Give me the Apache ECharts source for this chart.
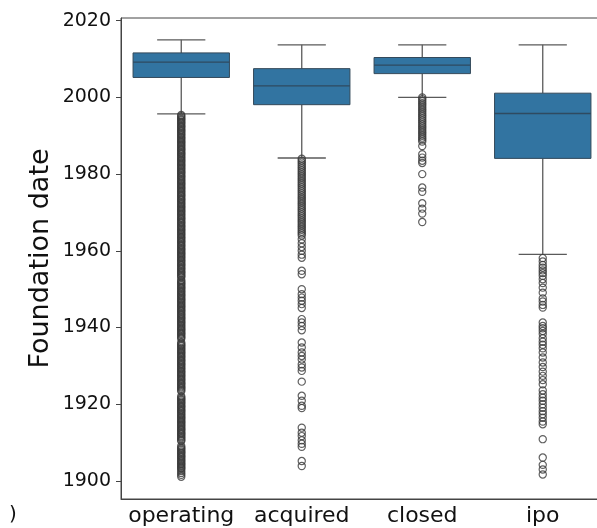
<!DOCTYPE html>
<html>
<head>
<meta charset="utf-8">
<script src="https://cdn.jsdelivr.net/npm/echarts@6/dist/echarts.min.js"></script>
<style>
  html, body { margin: 0; padding: 0; background: #fff; }
  #chart { width: 597px; height: 528px; }
</style>
</head>
<body>
<div id="chart"></div>
<script>
// Company status categories
const categories = ['operating', 'acquired', 'closed', 'ipo'];

// Box statistics per status (foundation year)
const lowerWhisker = [1995.7, 1984.2, 2000.0, 1959.1];
const q1Values     = [2005.2, 1998.1, 2006.2, 1984.1];
const medianValues = [2009.2, 2003.0, 2008.4, 1995.8];
const q3Values     = [2011.6, 2007.5, 2010.4, 2001.1];
const upperWhisker = [2015.0, 2013.7, 2013.7, 2013.7];

// Outlying foundation years per status
const operatingOutliers = [
  1995.4, 1995.1, 1994.7, 1994.4, 1994.1, 1993.7, 1993.4, 1993.1, 1992.7, 1992.4, 1992.1,
  1991.7, 1991.4, 1991.1, 1990.7, 1990.4, 1990.1, 1989.7, 1989.4, 1989.1, 1988.7, 1988.4, 1988.1,
  1987.7, 1987.4, 1987.1, 1986.7, 1986.4, 1986.1, 1985.7, 1985.4, 1985.1, 1984.7, 1984.4, 1984.1,
  1983.7, 1983.4, 1983.1, 1982.7, 1982.4, 1982.1, 1981.7, 1981.4, 1981.1, 1980.7, 1980.4, 1980.1,
  1979.7, 1979.4, 1979.1, 1978.7, 1978.4, 1978.1, 1977.7, 1977.4, 1977.1, 1976.7, 1976.4, 1976.1,
  1975.7, 1975.4, 1975.1, 1974.7, 1974.4, 1974.1, 1973.7, 1973.4, 1973.1, 1972.7, 1972.4, 1972.1,
  1971.7, 1971.4, 1971.1, 1970.7, 1970.4, 1970.1, 1969.7, 1969.4, 1969.1, 1968.7, 1968.4, 1968.1,
  1967.7, 1967.4, 1967.1, 1966.7, 1966.4, 1966.1, 1965.7, 1965.4, 1965.1, 1964.7, 1964.4, 1964.1,
  1963.7, 1963.4, 1963.1, 1962.7, 1962.4, 1962.1, 1961.7, 1961.4, 1961.1, 1960.7, 1960.4, 1960.1,
  1959.7, 1959.4, 1959.1, 1958.7, 1958.4, 1958.1, 1957.7, 1957.4, 1957.1, 1956.7, 1956.4, 1956.1,
  1955.7, 1955.4, 1955.1, 1954.7, 1954.4, 1954.1, 1953.7, 1953.4, 1953.1,
  1952.4, 1952.1, 1951.7, 1951.4, 1951.1, 1950.7, 1950.4, 1950.1, 1949.7, 1949.4, 1949.1,
  1948.7, 1948.4, 1948.1, 1947.7, 1947.4, 1947.1, 1946.7, 1946.4, 1946.1, 1945.7, 1945.4,
  1945.1, 1944.7, 1944.4, 1944.1, 1943.7, 1943.4, 1943.1, 1942.7, 1942.4, 1942.1, 1941.7,
  1941.4, 1941.1, 1940.7, 1940.4, 1940.1, 1939.7, 1939.4, 1939.1, 1938.7, 1938.4, 1938.1,
  1937.7, 1937.4, 1937.1, 1936.1, 1935.7, 1935.4, 1935.1, 1934.7, 1934.4, 1934.1, 1933.7,
  1933.4, 1933.1, 1932.7, 1932.4, 1932.1, 1931.7, 1931.4, 1931.1, 1930.7, 1930.4, 1930.1,
  1929.7, 1929.4, 1929.1, 1928.7, 1928.4, 1928.1, 1927.7, 1927.4, 1927.1, 1926.7, 1926.4,
  1926.1, 1925.7, 1925.4, 1925.1, 1924.7, 1924.4, 1924.1, 1923.7, 1923.4, 1922.1, 1921.7,
  1921.4, 1921.1, 1920.7, 1920.4, 1920.1, 1919.7, 1919.4, 1919.1, 1918.7, 1918.4, 1918.1,
  1917.7, 1917.4, 1917.1, 1916.7, 1916.4, 1916.1, 1915.7, 1915.4, 1915.1, 1914.7, 1914.4,
  1914.1, 1913.7, 1913.4, 1913.1, 1912.7, 1912.4, 1912.1, 1911.7, 1911.4, 1911.1, 1910.7,
  1910.4, 1909.1, 1908.7, 1908.4, 1908.1, 1907.7, 1907.4, 1907.1, 1906.7, 1906.4, 1906.1,
  1905.7, 1905.4, 1905.1, 1904.7, 1904.4, 1904.1, 1903.7, 1903.4, 1903.1, 1902.6, 1902.1,
  1901.6, 1901.1
];

const acquiredOutliers = [
  1984, 1983.5, 1983, 1982.5, 1982, 1981.5, 1981, 1980.5, 1980, 1979.5, 1979, 1978.5, 1978,
  1977.5, 1977, 1976.5, 1976, 1975.5, 1975, 1974.5, 1974, 1973.5, 1973, 1972.5, 1972, 1971.5,
  1971, 1970.5, 1970, 1969.5, 1969, 1968.5, 1968, 1967.5, 1967, 1966.5, 1966, 1965.5, 1965,
  1964.5, 1964, 1963, 1962, 1961, 1960, 1959, 1958.2,
  1954.8, 1953.9, 1950.0, 1948.7, 1947.8, 1947.0, 1946.1, 1945.1, 1942.2, 1941.3, 1940.4,
  1939.3, 1936.1, 1934.8, 1933.5, 1932.6, 1931.7, 1930.4, 1929.6, 1928.7, 1925.9, 1922.2,
  1920.9, 1919.6, 1919.0, 1913.9, 1912.6, 1911.7, 1910.6, 1909.7, 1908.9, 1905.2, 1903.9
];

const closedOutliers = [
  2000, 1999.5, 1999, 1998.5, 1998, 1997.5, 1997, 1996.5, 1996, 1995.5, 1995, 1994.5, 1994,
  1993.5, 1993, 1992.5, 1992, 1991.5, 1991, 1990.5, 1990, 1989.5, 1989, 1988.5,
  1987.3, 1985.2, 1984.3, 1983.5, 1982.9, 1980.0, 1976.5, 1975.4, 1972.4, 1971.0, 1969.7, 1967.5
];

const ipoOutliers = [
  1958.1, 1957.2, 1956.3, 1955.6, 1954.9, 1954.2, 1953.5, 1952.6, 1951.6, 1950.4, 1949.1,
  1947.6, 1946.8, 1945.9, 1945.2, 1941.3, 1940.4, 1939.8, 1939.1, 1938.3, 1937.2, 1936.3,
  1935.5, 1934.6, 1933.5, 1932.2, 1930.9, 1929.7, 1928.5, 1927.4, 1926.3, 1925.2, 1923.6,
  1922.6, 1921.7, 1920.9, 1920.0, 1919.1, 1918.2, 1917.4, 1916.5, 1915.5, 1914.8, 1910.9,
  1906.1, 1904.2, 1903.0, 1901.7
];

// Y axis tick labels
const yTicks = [1900, 1920, 1940, 1960, 1980, 2000, 2020];

const boxData = categories.map((c, i) => [
  i, lowerWhisker[i], q1Values[i], medianValues[i], q3Values[i], upperWhisker[i]
]);

const outlierData = [];
[operatingOutliers, acquiredOutliers, closedOutliers, ipoOutliers].forEach((list, i) => {
  list.forEach(v => outlierData.push([i, v]));
});

const LINE = '#5a5a5a';
const BOX_FILL = '#3274a1';
const FONT = 'DejaVu Sans';

function renderBox(params, api) {
  const idx = api.value(0);
  const lo = api.coord([idx, api.value(1)]);
  const q1 = api.coord([idx, api.value(2)]);
  const med = api.coord([idx, api.value(3)]);
  const q3 = api.coord([idx, api.value(4)]);
  const hi = api.coord([idx, api.value(5)]);
  const band = api.size([1, 0])[0];
  const bw = band * 0.8;
  const cw = bw * 0.5;
  const cx = lo[0];
  const lineStyle = { stroke: LINE, lineWidth: 1.3 };
  return {
    type: 'group',
    children: [
      { type: 'line', shape: { x1: cx, y1: q1[1], x2: cx, y2: lo[1] }, style: lineStyle },
      { type: 'line', shape: { x1: cx, y1: q3[1], x2: cx, y2: hi[1] }, style: lineStyle },
      { type: 'line', shape: { x1: cx - cw / 2, y1: lo[1], x2: cx + cw / 2, y2: lo[1] }, style: lineStyle },
      { type: 'line', shape: { x1: cx - cw / 2, y1: hi[1], x2: cx + cw / 2, y2: hi[1] }, style: lineStyle },
      {
        type: 'rect',
        shape: { x: cx - bw / 2, y: q3[1], width: bw, height: q1[1] - q3[1] },
        style: { fill: BOX_FILL, stroke: '#34495a', lineWidth: 1 }
      },
      { type: 'line', shape: { x1: cx - bw / 2, y1: med[1], x2: cx + bw / 2, y2: med[1] },
        style: { stroke: '#2f4a60', lineWidth: 1.3 } }
    ]
  };
}

const chart = echarts.init(document.getElementById('chart'), null, { renderer: 'canvas' });
chart.setOption({
  animation: false,
  backgroundColor: '#ffffff',
  grid: {
    left: 121, top: 18, width: 482, height: 481,
    show: true, borderColor: '#444', borderWidth: 1,
    containLabel: false, outerBoundsMode: 'none'
  },
  xAxis: {
    type: 'category',
    data: categories,
    boundaryGap: true,
    axisLine: { lineStyle: { color: '#444', width: 1 } },
    axisTick: { alignWithLabel: true, length: 5, lineStyle: { color: '#444' } },
    axisLabel: { color: '#111', fontFamily: FONT, fontSize: 22, margin: 6, interval: 0, hideOverlap: false },
    splitLine: { show: false }
  },
  yAxis: {
    type: 'value',
    min: 1895.3, max: 2020.7,
    name: 'Foundation date',
    nameLocation: 'middle',
    nameGap: 67,
    nameMoveOverlap: false,
    nameTextStyle: { color: '#111', fontFamily: FONT, fontSize: 27 },
    axisLine: { show: true, lineStyle: { color: '#444', width: 1 } },
    axisTick: { show: true, length: 5, customValues: yTicks, lineStyle: { color: '#444' } },
    axisLabel: {
      color: '#111', fontFamily: FONT, fontSize: 19, margin: 10, customValues: yTicks,
      formatter: v => String(v)
    },
    splitLine: { show: false }
  },
  series: [
    {
      type: 'custom',
      renderItem: renderBox,
      data: boxData,
      encode: { x: 0, y: [1, 2, 3, 4, 5] },
      z: 2
    },
    {
      type: 'scatter',
      data: outlierData,
      symbol: 'circle',
      symbolSize: 7.2,
      itemStyle: { color: 'rgba(0,0,0,0)', borderColor: '#383838', borderWidth: 1.2 },
      z: 3
    }
  ],
  graphic: [
    {
      type: 'text', left: 9, top: 505,
      style: { text: ')', fontFamily: FONT, fontSize: 20, fill: '#111' }
    }
  ]
});
</script>
</body>
</html>
